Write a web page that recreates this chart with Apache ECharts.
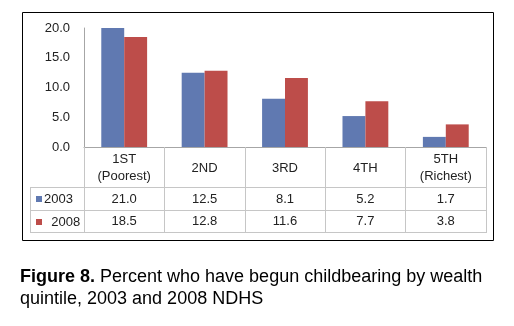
<!DOCTYPE html>
<html>
<head>
<meta charset="utf-8">
<script src="https://cdn.jsdelivr.net/npm/echarts@6/dist/echarts.min.js"></script>
<style>
html,body{margin:0;padding:0;background:#fff;}
#main{width:514px;height:326px;}
</style>
</head>
<body>
<div id="main"></div>
<script>
const categories = ['1ST\n(Poorest)', '2ND', '3RD', '4TH', '5TH\n(Richest)'];
const seriesNames = ['2003', '2008'];
const values2003 = [21.0, 12.5, 8.1, 5.2, 1.7];
const values2008 = [18.5, 12.8, 11.6, 7.7, 3.8];
const yTicks = [0, 5, 10, 15, 20];
const caption = ['Figure 8.', ' Percent who have begun childbearing by wealth', 'quintile, 2003 and 2008 NDHS'];

const BLUE = '#6079b1';
const RED = '#bd4d4a';
const LINE = '#c6c6c6';
const FONT = 'Liberation Sans';
const FS = 13;

const chart = echarts.init(document.getElementById('main'), null, {renderer: 'canvas'});

function rowAxis(vals, margin) {
  return {
    type: 'category', gridIndex: 0, position: 'bottom',
    data: vals.map(v => v.toFixed(1)),
    axisLine: {show: false}, axisTick: {show: false}, splitLine: {show: false},
    axisLabel: {margin: margin, verticalAlign: 'middle', color: '#222', fontFamily: FONT, fontSize: FS, interval: 0}
  };
}

const option = {
  animation: false,
  backgroundColor: '#fff',
  grid: {left: 84, right: 28, top: 28, bottom: 179, containLabel: false},
  legend: {
    data: seriesNames, orient: 'vertical', left: 36, top: 192, padding: 0,
    itemWidth: 6, itemHeight: 6, itemGap: 9, icon: 'rect',
    textStyle: {fontFamily: FONT, fontSize: FS, color: '#222', lineHeight: 14, padding: [0, 0, 0, -3]},
    formatter: n => n === '2008' ? '  ' + n : n,
    selectedMode: false
  },
  title: {
    left: 20, top: 266, padding: 0,
    text: '{b|' + caption[0] + '}{n|' + caption[1] + '}\n{n|' + caption[2] + '}',
    textStyle: {
      fontWeight: 'normal',
      rich: {
        b: {fontFamily: FONT, fontSize: 18, fontWeight: 'bold', color: '#000', lineHeight: 22},
        n: {fontFamily: FONT, fontSize: 18, fontWeight: 'normal', color: '#000', lineHeight: 22}
      }
    }
  },
  xAxis: [
    {
      type: 'category', data: categories, boundaryGap: true,
      axisLine: {show: true, lineStyle: {color: '#a6a6a6', width: 1}},
      axisTick: {show: true, alignWithLabel: false, length: 86, lineStyle: {color: LINE}},
      axisLabel: {margin: 21, verticalAlign: 'middle', color: '#222', fontFamily: FONT, fontSize: FS, lineHeight: 17, interval: 0, align: 'center'}
    },
    rowAxis(values2003, 52),
    rowAxis(values2008, 74)
  ],
  yAxis: {
    type: 'value', min: yTicks[0], max: yTicks[yTicks.length - 1], interval: 5,
    axisLine: {show: true, lineStyle: {color: '#a6a6a6'}},
    axisTick: {show: false}, splitLine: {show: false},
    axisLabel: {margin: 14, color: '#222', fontFamily: FONT, fontSize: FS, formatter: v => v.toFixed(1)}
  },
  series: [
    {name: seriesNames[0], type: 'bar', data: values2003, itemStyle: {color: BLUE}, barGap: '0%', barCategoryGap: '43%', clip: true},
    {name: seriesNames[1], type: 'bar', data: values2008, itemStyle: {color: RED}, barGap: '0%', barCategoryGap: '43%', clip: true}
  ],
  graphic: [
    {type: 'rect', shape: {x: 22.5, y: 12.5, width: 471, height: 228}, style: {fill: 'none', stroke: '#000', lineWidth: 1}, silent: true, z: 0},
    {type: 'line', shape: {x1: 30, y1: 187.5, x2: 486, y2: 187.5}, style: {stroke: LINE, lineWidth: 1}, silent: true},
    {type: 'line', shape: {x1: 30, y1: 210.5, x2: 486, y2: 210.5}, style: {stroke: LINE, lineWidth: 1}, silent: true},
    {type: 'line', shape: {x1: 30, y1: 232.5, x2: 486, y2: 232.5}, style: {stroke: LINE, lineWidth: 1}, silent: true},
    {type: 'line', shape: {x1: 30.5, y1: 187, x2: 30.5, y2: 233}, style: {stroke: LINE, lineWidth: 1}, silent: true}
  ]
};
chart.setOption(option);
</script>
</body>
</html>
